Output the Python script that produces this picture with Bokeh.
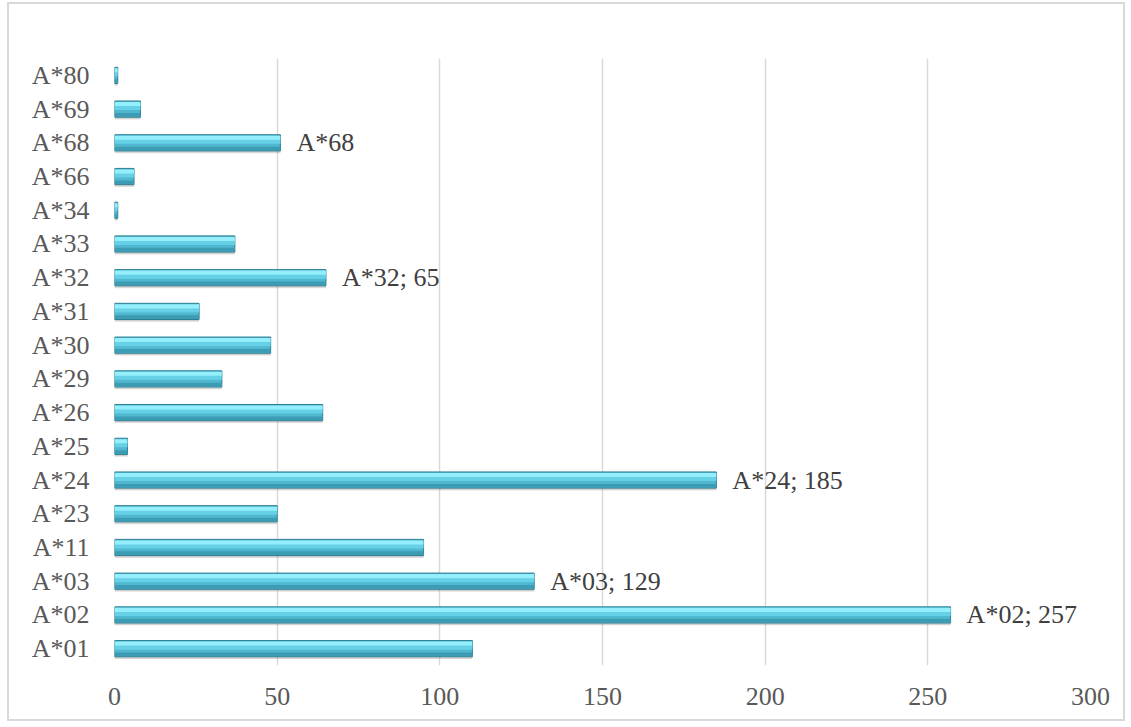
from bokeh.plotting import figure
from bokeh.models import ColumnDataSource, FactorRange, FixedTicker
from bokeh.transform import dodge
from bokeh.core.properties import value
from bokeh.embed import file_html
from bokeh.resources import INLINE

categories = ["A*01", "A*02", "A*03", "A*11", "A*23", "A*24", "A*25", "A*26", "A*29",
              "A*30", "A*31", "A*32", "A*33", "A*34", "A*66", "A*68", "A*69", "A*80"]
counts = [110, 257, 129, 95, 50, 185, 4, 64, 33, 48, 26, 65, 37, 1, 6, 51, 8, 1]
labels = ["", "A*02; 257", "A*03; 129", "", "", "A*24; 185", "", "", "", "",
          "", "A*32; 65", "", "", "", "A*68", "", ""]
x_ticks = [0, 50, 100, 150, 200, 250, 300]

src = ColumnDataSource(dict(cat=categories, val=counts, lab=labels))

p = figure(y_range=FactorRange(*categories), x_range=(0, 300),
           width=1118, height=719, output_backend="svg", toolbar_location=None,
           min_border_left=105, min_border_right=37, min_border_top=54, min_border_bottom=58)
p.styles = {"border": "2px solid #d9d9d9", "margin-left": "7px", "margin-top": "2px"}

FONT = "'Liberation Serif', 'Times New Roman', serif"
TXT = "#595959"

# shadow
p.hbar(y=dodge("cat", -0.07, range=p.y_range), left=0, right="val", height=0.48,
       source=src, fill_color="#7a7a7a", fill_alpha=0.22, line_color=None)
p.hbar(y=dodge("cat", -0.05, range=p.y_range), left=0, right="val", height=0.48,
       source=src, fill_color="#7a7a7a", fill_alpha=0.18, line_color=None)
# main body
p.hbar(y="cat", left=0, right="val", height=0.48, source=src,
       fill_color="#4fb8d0", line_color="#2f7f92", line_width=1)
# lower darker part
p.hbar(y=dodge("cat", -0.17, range=p.y_range), left=0, right="val", height=0.11,
       source=src, fill_color="#3c9cb4", line_color=None)
# middle
p.hbar(y=dodge("cat", 0.04, range=p.y_range), left=0, right="val", height=0.14,
       source=src, fill_color="#66d0e6", line_color=None)
# top highlight
p.hbar(y=dodge("cat", 0.15, range=p.y_range), left=0, right="val", height=0.12,
       source=src, fill_color="#95eefb", line_color=None)

p.text(x="val", y="cat", text="lab", source=src, x_offset=16,
       text_baseline="middle", text_align="left",
       text_font=value(FONT), text_font_size="26px", text_color="#404040")

p.xaxis.ticker = FixedTicker(ticks=x_ticks)
for ax in (p.xaxis[0], p.yaxis[0]):
    ax.axis_line_color = None
    ax.major_tick_line_color = None
    ax.minor_tick_line_color = None
    ax.major_tick_out = 0
    ax.major_tick_in = 0
    ax.major_label_text_font = FONT
    ax.major_label_text_font_size = "26px"
    ax.major_label_text_color = TXT
p.yaxis.major_label_standoff = 25
p.xaxis.major_label_standoff = 22

p.ygrid.grid_line_color = None
p.xgrid.grid_line_color = "#d9d9d9"
p.xgrid.grid_line_width = 1.5
p.outline_line_color = None
p.background_fill_color = "white"
p.border_fill_color = "white"

open("out.html", "w").write(file_html(p, INLINE))
